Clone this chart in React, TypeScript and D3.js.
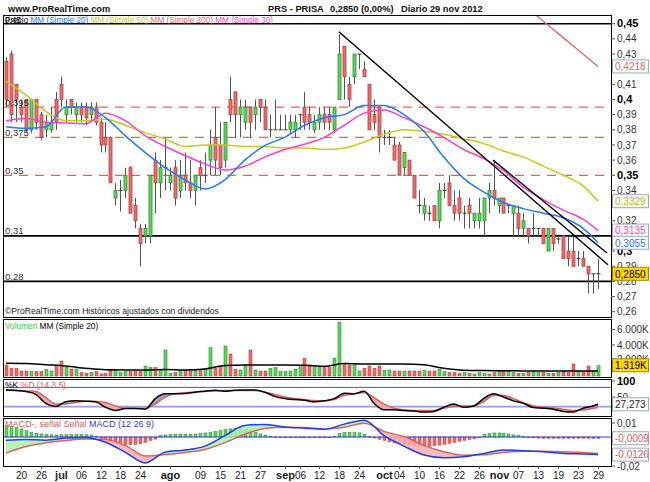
import * as d3 from "d3";

const FONT = "'Liberation Sans', Arial, Helvetica, sans-serif";

// daily candles, 15 jun 2012 -> 29 nov 2012
const open = [
  0.425, 0.43, 0.41, 0.395, 0.4, 0.38, 0.4, 0.39, 0.38, 0.38,
  0.4, 0.41, 0.39, 0.4, 0.39, 0.395, 0.395, 0.39, 0.395, 0.385,
  0.375, 0.375, 0.335, 0.34, 0.34, 0.355, 0.33, 0.315, 0.31, 0.31,
  0.36, 0.345, 0.355, 0.345, 0.355, 0.34, 0.35, 0.345, 0.34, 0.355,
  0.35, 0.36, 0.375, 0.37, 0.36, 0.4, 0.405, 0.39, 0.385, 0.395,
  0.39, 0.4, 0.395, 0.38, 0.38, 0.38, 0.38, 0.38, 0.38, 0.39,
  0.395, 0.39, 0.38, 0.385, 0.39, 0.39, 0.38, 0.4, 0.435, 0.41,
  0.415, 0.43, 0.42, 0.41, 0.39, 0.395, 0.375, 0.375, 0.37, 0.37,
  0.355, 0.36, 0.35, 0.33, 0.325, 0.325, 0.33, 0.32, 0.34, 0.345,
  0.33, 0.335, 0.325, 0.33, 0.32, 0.32, 0.32, 0.335, 0.34, 0.33,
  0.335, 0.33, 0.325, 0.325, 0.315, 0.315, 0.315, 0.315, 0.315, 0.3,
  0.315, 0.308, 0.31, 0.3, 0.3, 0.295, 0.295, 0.29, 0.285, 0.285,
];
const high = [
  0.428, 0.432, 0.41, 0.4, 0.4, 0.4, 0.4, 0.392, 0.39, 0.395,
  0.405, 0.415, 0.4, 0.4, 0.398, 0.398, 0.398, 0.398, 0.398, 0.388,
  0.385, 0.375, 0.345, 0.347, 0.355, 0.356, 0.335, 0.318, 0.318, 0.35,
  0.365, 0.36, 0.375, 0.355, 0.36, 0.36, 0.365, 0.36, 0.35, 0.36,
  0.365, 0.38, 0.395, 0.385, 0.385, 0.415, 0.405, 0.4, 0.4, 0.395,
  0.4, 0.4, 0.4, 0.39, 0.4, 0.39, 0.39, 0.39, 0.39, 0.39,
  0.405, 0.395, 0.39, 0.395, 0.395, 0.395, 0.395, 0.443, 0.435, 0.415,
  0.43, 0.43, 0.425, 0.41, 0.4, 0.395, 0.38, 0.38, 0.375, 0.372,
  0.365, 0.36, 0.35, 0.34, 0.335, 0.33, 0.33, 0.345, 0.345, 0.35,
  0.34, 0.34, 0.33, 0.335, 0.325, 0.335, 0.335, 0.345, 0.36, 0.335,
  0.335, 0.33, 0.33, 0.33, 0.325, 0.315, 0.325, 0.315, 0.315, 0.315,
  0.315, 0.31, 0.31, 0.31, 0.31, 0.3, 0.3, 0.29, 0.285, 0.295,
];
const low = [
  0.395, 0.385, 0.385, 0.385, 0.378, 0.378, 0.38, 0.373, 0.375, 0.378,
  0.38, 0.395, 0.385, 0.39, 0.385, 0.385, 0.383, 0.385, 0.383, 0.365,
  0.365, 0.345, 0.33, 0.326, 0.335, 0.325, 0.315, 0.29, 0.305, 0.305,
  0.325, 0.335, 0.34, 0.34, 0.33, 0.335, 0.34, 0.335, 0.33, 0.34,
  0.345, 0.35, 0.35, 0.35, 0.355, 0.385, 0.375, 0.375, 0.38, 0.375,
  0.38, 0.385, 0.38, 0.375, 0.38, 0.38, 0.38, 0.378, 0.375, 0.38,
  0.38, 0.38, 0.378, 0.38, 0.38, 0.38, 0.378, 0.4, 0.4, 0.395,
  0.41, 0.42, 0.415, 0.38, 0.38, 0.365, 0.37, 0.37, 0.36, 0.35,
  0.35, 0.35, 0.335, 0.325, 0.32, 0.32, 0.32, 0.315, 0.335, 0.33,
  0.32, 0.32, 0.315, 0.315, 0.315, 0.315, 0.31, 0.325, 0.33, 0.325,
  0.325, 0.325, 0.31, 0.31, 0.31, 0.305, 0.31, 0.31, 0.305, 0.3,
  0.3, 0.305, 0.295, 0.29, 0.29, 0.29, 0.29, 0.272, 0.272, 0.275,
];
const close = [
  0.4, 0.39, 0.4, 0.39, 0.38, 0.4, 0.385, 0.375, 0.385, 0.385,
  0.385, 0.4, 0.395, 0.395, 0.395, 0.39, 0.388, 0.395, 0.385, 0.37,
  0.37, 0.345, 0.34, 0.34, 0.35, 0.325, 0.32, 0.305, 0.315, 0.35,
  0.345, 0.355, 0.355, 0.35, 0.335, 0.35, 0.345, 0.34, 0.35, 0.35,
  0.35, 0.37, 0.36, 0.355, 0.385, 0.39, 0.39, 0.395, 0.395, 0.385,
  0.395, 0.395, 0.38, 0.38, 0.38, 0.38, 0.38, 0.385, 0.385, 0.39,
  0.385, 0.385, 0.385, 0.39, 0.385, 0.385, 0.395, 0.43, 0.415, 0.4,
  0.43, 0.43, 0.415, 0.38, 0.385, 0.375, 0.375, 0.375, 0.36, 0.35,
  0.365, 0.35, 0.335, 0.33, 0.33, 0.325, 0.32, 0.34, 0.34, 0.33,
  0.325, 0.325, 0.325, 0.325, 0.325, 0.325, 0.335, 0.34, 0.335, 0.335,
  0.325, 0.33, 0.33, 0.315, 0.32, 0.31, 0.315, 0.315, 0.305, 0.315,
  0.305, 0.308, 0.295, 0.295, 0.29, 0.295, 0.29, 0.285, 0.285, 0.285,
];
// volume in thousands
const volume = [
  1420, 990, 990, 645, 645, 560, 560, 560, 860, 645,
  1200, 1935, 1120, 900, 900, 430, 344, 430, 560, 258,
  300, 860, 774, 430, 560, 560, 560, 560, 1290, 1075,
  1075, 774, 3350, 344, 430, 690, 690, 690, 690, 690,
  990, 3650, 990, 1200, 3870, 2840, 860, 774, 1420, 3350,
  774, 645, 645, 990, 1075, 560, 560, 645, 860, 1200,
  2280, 1420, 1200, 1075, 1200, 1075, 2280, 6920, 1630, 1420,
  1630, 645, 990, 1290, 990, 1290, 690, 774, 645, 645,
  645, 645, 645, 645, 690, 645, 645, 860, 560, 430,
  430, 344, 430, 344, 258, 430, 344, 258, 430, 645,
  560, 560, 430, 344, 344, 430, 560, 430, 430, 344,
  344, 430, 645, 430, 1550, 645, 560, 1290, 645, 1319,
];

// moving averages, read every 4th session
const maIdx = [0, 4, 8, 12, 16, 20, 24, 28, 32, 36, 40, 44, 48, 52, 56, 60, 64, 68, 72, 76, 80, 84, 88, 92, 96, 100, 104, 108, 112, 116, 119];
const ma20 = [0.382, 0.381, 0.382, 0.395, 0.395, 0.388, 0.376, 0.365, 0.355, 0.347, 0.341, 0.347, 0.36, 0.3695, 0.375, 0.383, 0.388, 0.39, 0.396, 0.396, 0.39, 0.379, 0.362, 0.348, 0.339, 0.332, 0.328, 0.325, 0.322, 0.315, 0.3055];
const ma50 = [0.412, 0.403, 0.392, 0.386, 0.386, 0.387, 0.383, 0.378, 0.374, 0.369, 0.37, 0.37, 0.369, 0.369, 0.368, 0.368, 0.367, 0.368, 0.372, 0.377, 0.38, 0.379, 0.377, 0.374, 0.371, 0.366, 0.362, 0.356, 0.35, 0.343, 0.3329];
const ma30 = [0.386, 0.3875, 0.385, 0.3845, 0.384, 0.391, 0.386, 0.376, 0.369, 0.363, 0.3575, 0.3535, 0.356, 0.362, 0.367, 0.3705, 0.375, 0.383, 0.391, 0.393, 0.388, 0.382, 0.375, 0.367, 0.361, 0.353, 0.342, 0.334, 0.327, 0.321, 0.3135];
const ma200Idx = [100, 104, 108, 112, 116, 119];
const ma200 = [0.473, 0.4624, 0.4516, 0.4408, 0.43, 0.4218];
const volMa = [1630, 1600, 1450, 1300, 1000, 800, 780, 780, 850, 780, 900, 1350, 1420, 1420, 1420, 1400, 1250, 1600, 1550, 1550, 1550, 1450, 1000, 750, 700, 680, 650, 640, 650, 650, 650];

// stochastic, every 2nd session
const stIdx = [...d3.range(0, 120, 2), 119];
const stK = [72, 70, 67, 58, 30, 20, 35, 38, 37, 35, 18, 8, 14, 14, 12, 45, 60, 60, 61, 65, 68, 71, 68, 71, 72, 72, 65, 52, 45, 42, 40, 35, 38, 45, 62, 60, 68, 30, 10, 10, 8, 6, 3, 5, 18, 28, 18, 22, 45, 60, 50, 38, 30, 17, 15, 12, 5, 3, 15, 22, 27.273];
const stD = [72, 71, 69, 67, 48, 28, 28, 33, 37, 36, 33, 22, 15, 15, 15, 28, 50, 60, 63, 66, 68, 69, 70, 70, 70, 70, 66, 58, 50, 45, 42, 39, 38, 42, 55, 60, 64, 48, 28, 15, 10, 8, 8, 8, 15, 20, 22, 22, 35, 55, 55, 45, 32, 22, 18, 16, 12, 8, 9, 14, 17];

// MACD (12 26 9), every 4th session; histogram daily in 1e-4
const macd = [-0.0024, -0.0018, -0.0023, -0.0008, -0.0003, -0.0037, -0.011, -0.0185, -0.0108, -0.0093, -0.0065, 0.001, 0.0082, 0.009, 0.0072, 0.0063, 0.0055, 0.0092, 0.012, 0.001, -0.0065, -0.0128, -0.0148, -0.0141, -0.0118, -0.0093, -0.0098, -0.0106, -0.0117, -0.0121, -0.0126];
const signal = [-0.0115, -0.0068, -0.0042, -0.0026, -0.0014, -0.0018, -0.006, -0.0135, -0.0125, -0.011, -0.009, -0.004, 0.002, 0.006, 0.0069, 0.0068, 0.0058, 0.007, 0.0098, 0.004, 0.0003, -0.006, -0.0105, -0.013, -0.0127, -0.011, -0.0102, -0.0102, -0.0106, -0.011, -0.0117];
const hist = [
  80, 75, 68, 58, 45, 32, 27, 22, 17, 15,
  14, 16, 17, 17, 17, 17, 16, 14, 6, -10,
  -19, -30, -43, -52, -55, -55, -54, -48, -38, -25,
  -15, 10, 15, 18, 19, 20, 20, 20, 21, 24,
  29, 35, 40, 46, 52, 58, 63, 62, 55, 45,
  33, 22, 14, 6, 1, -2, -4, -5, -5, -5,
  -6, -6, -5, -6, -5, -5, 5, 25, 33, 33,
  32, 30, 18, 5, -7, -16, -25, -35, -40, -45,
  -52, -58, -63, -67, -67, -66, -62, -58, -52, -45,
  -38, -30, -24, -18, -12, -4, 17, 25, 29, 29,
  27, 22, 15, 10, 4, -3, -6, -8, -9, -9,
  -10, -10, -10, -10, -9, -9, -9, -9, -9, -9,
];

// drawn levels and trend lines
const redLevels = [0.395, 0.375, 0.35];
const blackLevels = [0.45, 0.31, 0.28];
const trendLines = [
  { i0: 66.9, p0: 0.4447, i1: 121, p1: 0.291 },
  { i0: 97.9, p0: 0.36, i1: 120.8, p1: 0.2987 },
];

const xTickDates = ["2012-06-20", "2012-06-26", "2012-07-02", "2012-07-06", "2012-07-12", "2012-07-18", "2012-07-24", "2012-08-01", "2012-08-09", "2012-08-15", "2012-08-21", "2012-08-27", "2012-09-03", "2012-09-06", "2012-09-12", "2012-09-18", "2012-09-24", "2012-10-01", "2012-10-04", "2012-10-10", "2012-10-16", "2012-10-22", "2012-10-26", "2012-11-01", "2012-11-07", "2012-11-13", "2012-11-19", "2012-11-23", "2012-11-29"];
const xTickLabels = ["20", "26", "jul", "06", "12", "18", "24", "ago", "09", "15", "21", "27", "sep", "06", "12", "18", "24", "oct", "04", "10", "16", "22", "26", "nov", "07", "13", "19", "23", "29"];

const dates: Date[] = [];
for (let t = new Date(2012, 5, 15); t <= new Date(2012, 10, 29); t.setDate(t.getDate() + 1)) {
  if (t.getDay() > 0 && t.getDay() < 6) dates.push(new Date(t));
}
const fmtDay = d3.timeFormat("%Y-%m-%d");
const dayKeys = dates.map(fmtDay);

const L = 3;
const R = 611;
const MAIN = { top: 15, bottom: 317 };
const VOL = { top: 319, bottom: 377 };
const STO = { top: 379, bottom: 416 };
const MAC = { top: 418, bottom: 466 };

const C_RED = "#ee6b6b";
const C_RED_S = "#a84444";
const C_GREEN = "#5cd65c";
const C_GREEN_S = "#2f8a2f";

const comma = (v: number, d: number) => v.toFixed(d).replace(".", ",");

export default function App() {
  const x = d3.scaleLinear().domain([0, 119]).range([6, 598]);
  const yP = d3.scaleLinear().domain([0.26, 0.45]).range([311.7, 23.7]);
  const yV = d3.scaleLinear().domain([0, 6000]).range([376, 329.5]);
  const yS = d3.scaleLinear().domain([0, 100]).range([413, 381]);
  const yM = d3.scaleLinear().domain([-0.02, 0.01]).range([465, 423]);

  const isUp = (i: number) =>
    close[i] > open[i] || (close[i] === open[i] && (i === 0 || close[i] >= close[i - 1]));

  const path = (idx: number[], vals: number[], y: d3.ScaleLinear<number, number>) =>
    d3.line<number>().x((_, k) => x(idx[k])).y((v) => y(v)).curve(d3.curveMonotoneX)(vals) ?? "";
  const band = (idx: number[], a: number[], b: number[], y: d3.ScaleLinear<number, number>) =>
    d3.area<number>().x((_, k) => x(idx[k])).y0((_, k) => y(b[k])).y1((v) => y(v)).curve(d3.curveMonotoneX)(a) ?? "";
  const toEdge = (idx: number[], b: number[], y: d3.ScaleLinear<number, number>, edge: number) =>
    d3.area<number>().x((_, k) => x(idx[k])).y0(edge).y1((v) => y(v)).curve(d3.curveMonotoneX)(b) ?? "";

  // last values shown in boxes on the right axis
  const priceBoxes = [
    { v: 0.4218, t: "0,4218", c: "#e06a6a" },
    { v: 0.3329, t: "0,3329", c: "#b8b800" },
    { v: 0.3135, t: "0,3135", c: "#ff3fc8" },
    { v: 0.3055, t: "0,3055", c: "#2479ff" },
  ];
  const boxYs = [...priceBoxes.map((b) => yP(b.v)), yP(0.285)];
  const priceTicks = d3.range(26, 46).map((v) => v / 100).filter((p) => boxYs.every((by) => Math.abs(by - yP(p)) > 6));
  const boldTicks = [0.45, 0.4, 0.35, 0.3];

  const valueBox = (y: number, text: string, color: string, fill = "#fff", stroke = "#9aaabb") => (
    <g key={text}>
      <rect x={612.5} y={y - 6.5} width={36} height={13} fill={fill} stroke={stroke} />
      <text x={615} y={y + 3.8} fontSize={10} fill={color}>{text}</text>
    </g>
  );
  const axisLabel = (y: number, text: string, bold = false) => (
    <g key={text + y}>
      <line x1={R} x2={615} y1={y} y2={y} stroke="#555" />
      <text x={617} y={y + 3.6} fontSize={bold ? 11 : 10} fontWeight={bold ? "bold" : "normal"} fill={bold ? "#000" : "#333"}>{text}</text>
    </g>
  );

  const frame = (p: { top: number; bottom: number }) => (
    <rect x={L + 0.5} y={p.top + 0.5} width={R - L} height={p.bottom - p.top} fill="none" stroke="#000" />
  );

  return (
    <svg width={650} height={482} style={{ position: "absolute", left: 0, top: 0, background: "#fff" }} fontFamily={FONT}>
      <defs>
        <clipPath id="mainClip"><rect x={L + 1} y={MAIN.top + 1} width={R - L - 1} height={MAIN.bottom - MAIN.top - 1} /></clipPath>
        <clipPath id="stAbove"><path d={toEdge(stIdx, stD, yS, STO.top)} /></clipPath>
        <clipPath id="stBelow"><path d={toEdge(stIdx, stD, yS, STO.bottom)} /></clipPath>
        <clipPath id="mAbove"><path d={toEdge(maIdx, signal, yM, MAC.top)} /></clipPath>
        <clipPath id="mBelow"><path d={toEdge(maIdx, signal, yM, MAC.bottom)} /></clipPath>
      </defs>
      <rect width={650} height={482} fill="#fff" />

      {/* header */}
      <g fontWeight="bold" fontSize={9.3} fill="#111">
        <text x={8} y={12}>www.ProRealTime.com</text>
        <text x={268} y={12}>PRS - PRISA</text>
        <text x={330} y={12}>0,2850 (0,00%)</text>
        <text x={401} y={12}>Diario  29 nov 2012</text>
      </g>

      {/* ---------- main panel ---------- */}
      <g clipPath="url(#mainClip)">
        {redLevels.map((p) => (
          <line key={p} x1={L} x2={R} y1={yP(p)} y2={yP(p)} stroke="#ff5a5a" strokeWidth={1.2} strokeDasharray="9,7" />
        ))}
        {blackLevels.map((p) => (
          <line key={p} x1={L} x2={R} y1={yP(p)} y2={yP(p)} stroke="#000" strokeWidth={1.6} />
        ))}
        {/* candles */}
        {dates.map((_, i) => {
          const cx = Math.round(x(i)) + 0.5;
          const up = isUp(i);
          const yo = yP(open[i]);
          const yc = yP(close[i]);
          const top = Math.min(yo, yc);
          const h = Math.abs(yo - yc);
          return (
            <g key={i}>
              <line x1={cx} x2={cx} y1={yP(high[i])} y2={yP(low[i])} stroke="#555" />
              {h < 0.5 ? (
                <line x1={cx - 2} x2={cx + 2} y1={yc} y2={yc} stroke="#333" />
              ) : (
                <rect x={cx - 1.5} y={top} width={3} height={h} fill={up ? C_GREEN : C_RED} stroke={up ? C_GREEN_S : C_RED_S} strokeWidth={0.8} />
              )}
            </g>
          );
        })}
        <path d={path(ma200Idx, ma200, yP)} fill="none" stroke="#e06a6a" strokeWidth={1.4} />
        <path d={path(maIdx, ma50, yP)} fill="none" stroke="#c8c81e" strokeWidth={1.5} />
        <path d={path(maIdx, ma30, yP)} fill="none" stroke="#ff3fc8" strokeWidth={1.5} />
        <path d={path(maIdx, ma20, yP)} fill="none" stroke="#2479ff" strokeWidth={1.5} />
        {trendLines.map((t, k) => (
          <line key={k} x1={x(t.i0)} y1={yP(t.p0)} x2={x(t.i1)} y2={yP(t.p1)} stroke="#000" strokeWidth={1.4} />
        ))}
      </g>
      <g fontSize={9.5} fill="#333">
        {[0.395, 0.375, 0.35, 0.31, 0.28].map((p) => (
          <text key={p} x={5} y={yP(p) - 1.5}>{comma(p, p === 0.35 || p === 0.31 || p === 0.28 ? 2 : 3)}</text>
        ))}
      </g>
      {/* price legend, drawn over the 0,45 level label as in the original */}
      <text x={5} y={22.5} fontSize={8.2} fill="#000">0,45</text>
      <text x={5} y={22.5} fontSize={8.2}>
        <tspan fill="#000">Precio </tspan>
        <tspan fill="#2479ff">MM (Simple 20) </tspan>
        <tspan fill="#c8c81e">MM (Simple 50) </tspan>
        <tspan fill="#e06a6a">MM (Simple 200) </tspan>
        <tspan fill="#ff3fc8">MM (Simple 30)</tspan>
      </text>
      <text x={5} y={314} fontSize={8.6} fill="#222">©ProRealTime.com  Históricos ajustados con dividendos</text>
      {frame(MAIN)}
      {priceTicks.map((p) => axisLabel(yP(p), comma(p, 2).replace(/0$/, ""), boldTicks.includes(p)))}
      {priceBoxes.map((b) => valueBox(yP(b.v), b.t, b.c))}
      {valueBox(yP(0.285), "0,2850", "#000", "#ffd700", "#a08a00")}

      {/* ---------- volume ---------- */}
      {volume.map((v, i) => {
        const cx = Math.round(x(i)) + 0.5;
        const up = isUp(i);
        return (
          <rect key={i} x={cx - 1.5} y={yV(v)} width={3} height={yV(0) - yV(v)} fill={up ? C_GREEN : C_RED} stroke={up ? C_GREEN_S : C_RED_S} strokeWidth={0.6} />
        );
      })}
      <path d={path(maIdx, volMa, yV)} fill="none" stroke="#000" strokeWidth={1.5} />
      <text x={5} y={329} fontSize={8.3}>
        <tspan fill="#3cc83c">Volumen </tspan>
        <tspan fill="#000">MM (Simple 20)</tspan>
      </text>
      {frame(VOL)}
      {axisLabel(yV(6000), "6.000K")}
      {axisLabel(yV(4000), "4.000K")}
      {axisLabel(yV(2000) - 1.5, "2.000K")}
      {valueBox(yV(1319) - 0.5, "1.319K", "#000", "#ffd700", "#a08a00")}

      {/* ---------- stochastic ---------- */}
      <line x1={L} x2={R} y1={yS(80)} y2={yS(80)} stroke="#4b4be6" />
      <line x1={L} x2={R} y1={yS(20)} y2={yS(20)} stroke="#9a9af2" strokeWidth={1.6} />
      <path d={band(stIdx, stK, stD, yS)} fill="#9c9cd2" clipPath="url(#stAbove)" />
      <path d={band(stIdx, stK, stD, yS)} fill="#f2a9a9" clipPath="url(#stBelow)" />
      <path d={path(stIdx, stD, yS)} fill="none" stroke="#e06060" strokeWidth={1.5} />
      <path d={path(stIdx, stK, yS)} fill="none" stroke="#000" strokeWidth={1.5} />
      <text x={5} y={388} fontSize={8.5}>
        <tspan fill="#000">%K </tspan>
        <tspan fill="#e06060">%D (14 3 5)</tspan>
      </text>
      {frame(STO)}
      {axisLabel(yS(100), "100", true)}
      {axisLabel(yS(50), "50")}
      {valueBox(yS(27.273), "27,273", "#222")}

      {/* ---------- MACD ---------- */}
      {hist.map((h, i) => {
        const v = h / 10000;
        const cx = Math.round(x(i)) + 0.5;
        const y0 = yM(0);
        const y1 = yM(v);
        return (
          <rect key={i} x={cx - 1.5} y={Math.min(y0, y1)} width={3} height={Math.max(0.8, Math.abs(y1 - y0))} fill={v >= 0 ? C_GREEN : C_RED} stroke={v >= 0 ? C_GREEN_S : C_RED_S} strokeWidth={0.5} />
        );
      })}
      <line x1={L} x2={R} y1={yM(0)} y2={yM(0)} stroke="#3a3ae6" />
      <path d={band(maIdx, macd, signal, yM)} fill="#a9eea9" opacity={0.85} clipPath="url(#mAbove)" />
      <path d={band(maIdx, macd, signal, yM)} fill="#f3b0b0" opacity={0.85} clipPath="url(#mBelow)" />
      <path d={path(maIdx, signal, yM)} fill="none" stroke="#e06060" strokeWidth={1.5} />
      <path d={path(maIdx, macd, yM)} fill="none" stroke="#1f3cf0" strokeWidth={1.5} />
      <text x={5} y={427} fontSize={9}>
        <tspan fill="#e05a5a">MACD-, señal </tspan>
        <tspan fill="#e05a5a">Señal </tspan>
        <tspan fill="#1f3cf0">MACD (12 26 9)</tspan>
      </text>
      {frame(MAC)}
      {axisLabel(yM(0.01), "0,01")}
      {axisLabel(yM(-0.02) + 1, "-0,02")}
      {valueBox(yM(-0.0009), "-0,0009", "#e05a5a")}
      {valueBox(yM(-0.0126), "-0,0126", "#e05a5a")}

      {/* ---------- date axis ---------- */}
      {xTickDates.map((d, k) => {
        const i = dayKeys.indexOf(d);
        const px = Math.round(x(i)) + 0.5;
        const month = isNaN(+xTickLabels[k]);
        return (
          <g key={d}>
            <line x1={px} x2={px} y1={MAC.bottom} y2={MAC.bottom + 3} stroke="#555" />
            <text x={px} y={479} textAnchor="middle" fontSize={month ? 11 : 10} fontWeight={month ? "bold" : "normal"} fill="#222">
              {xTickLabels[k]}
            </text>
          </g>
        );
      })}
    </svg>
  );
}
